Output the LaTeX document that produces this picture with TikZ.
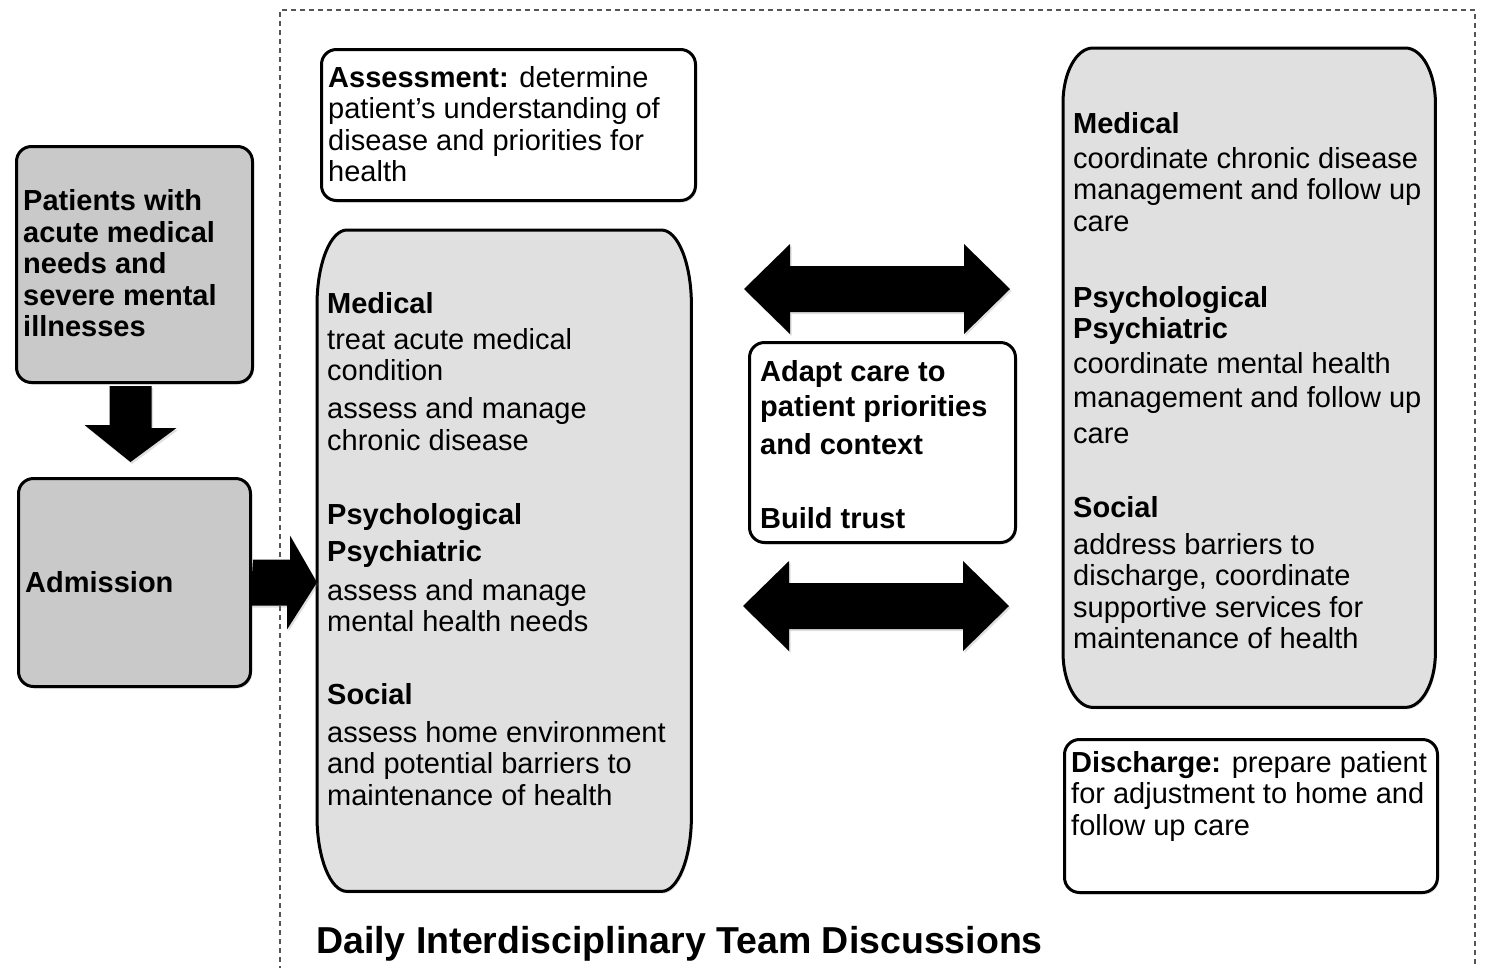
\documentclass[tikz,border=0pt]{standalone}
\usepackage{fontspec}
\setmainfont{Liberation Sans}
\usetikzlibrary{calc,shadows}
\definecolor{darkbox}{HTML}{C9C9C9}
\definecolor{lightbox}{HTML}{E0E0E0}
\definecolor{framegray}{HTML}{555555}
\tikzset{
  txt/.style={anchor=base west, inner sep=0pt, font=\fontsize{29}{31}\selectfont},
  softshadow/.style={drop shadow={opacity=0.25, shadow xshift=1.5pt, shadow yshift=-2pt}},
  boxline/.style={line width=3pt, draw=black},
  boxat/.style 2 args={minimum width=#1, minimum height=#2, anchor=north west, inner sep=0pt},
  smallbox/.style={boxline, rounded corners=15pt, softshadow},
  ghost/.style={draw=none, fill=none},
  blockarrow/.style={fill=black, softshadow},
  teamframe/.style={draw=framegray, line width=1.3pt, dash pattern=on 5pt off 4pt}
}
\newcommand{\bigshape}[3]{%
  \draw[boxline, fill=lightbox, softshadow]
    ($(#1.north west)+(0,#3)$) .. controls ($(#1.north west)+(0,0.4477*#3)$) and ($(#1.north west)+(0.4477*#2,0)$) .. ($(#1.north west)+(#2,0)$)
    -- ($(#1.north east)+(-#2,0)$) .. controls ($(#1.north east)+(-0.4477*#2,0)$) and ($(#1.north east)+(0,0.4477*#3)$) .. ($(#1.north east)+(0,#3)$)
    -- ($(#1.south east)+(0,-#3)$) .. controls ($(#1.south east)+(0,-0.4477*#3)$) and ($(#1.south east)+(-0.4477*#2,0)$) .. ($(#1.south east)+(-#2,0)$)
    -- ($(#1.south west)+(#2,0)$) .. controls ($(#1.south west)+(0.4477*#2,0)$) and ($(#1.south west)+(0,-0.4477*#3)$) .. ($(#1.south west)+(0,-#3)$)
    -- cycle;}
\newcommand{\dblarrow}[2]{%
  \fill[blockarrow] (#1) -- ++(46,-45) -- ++(0,22) -- ($(#2)+(-46,-23)$) -- ++(0,-22) -- (#2)
    -- ++(-46,45) -- ++(0,-22) -- ($(#1)+(46,23)$) -- ++(0,22) -- cycle;}
\begin{document}
\begin{tikzpicture}[x=1pt,y=-1pt]
\useasboundingbox[fill=white] (0,0) rectangle (1489,967);
% dashed team frame
\draw[teamframe] (280,980) -- (280,10) -- (1475,10) -- (1475,980);

% left column
\node[boxat={236pt}{236pt}, smallbox, fill=darkbox] (pat) at (15,145) {};
\node[boxat={232pt}{208pt}, smallbox, fill=darkbox] (adm) at (17,477) {};
\foreach \yy/\lbl [count=\i] in {210/Patients with, 242/acute medical, 273/needs and, 305/severe mental, 336/illnesses}
  \node[txt, font=\fontsize{29}{31}\selectfont\bfseries] (pt\i) at (23,\yy) {\lbl};
\node[txt, font=\fontsize{29}{31}\selectfont\bfseries] (admtxt) at (25,592) {Admission};

% boxes of the team area
\node[boxat={374pt}{151pt}, smallbox, fill=white] (ass) at (320,48) {};
\node[boxat={374pt}{661pt}, ghost] (lbox) at (317,230) {};
\bigshape{lbox}{30}{75}
\node[boxat={266pt}{200pt}, smallbox, fill=white] (mid) at (748,341) {};
\node[boxat={372pt}{659pt}, ghost] (rbox) at (1063,48) {};
\bigshape{rbox}{30}{55}
\node[boxat={373pt}{153pt}, smallbox, fill=white] (dis) at (1063,738) {};

% arrows
\fill[blockarrow] ($(pat.south)+(-25,2)$) -- ++(42,0) -- ++(0,42) -- ++(25,0)
  -- ($(adm.north)+(-4,-15)$) -- ++(-46,-37) -- ++(25,0) -- cycle;
\coordinate (tipR) at (lbox.west |- adm.east);
\fill[blockarrow] ($(adm.east)+(1,-23)$) -- ++(37,0) -- ++(0,-24) -- (tipR)
  -- ++(-30,47) -- ++(0,-24) -- ++(-37,0) -- cycle;
\coordinate (ua1) at ($(mid.north west)+(-4,-52)$);
\coordinate (ua2) at ($(mid.north east)+(-7,-52)$);
\coordinate (la1) at ($(mid.south west)+(-5,62)$);
\coordinate (la2) at ($(mid.south east)+(-8,62)$);
\dblarrow{ua1}{ua2}
\dblarrow{la1}{la2}

% texts
\foreach \yy/\lbl [count=\i] in {87/{\textbf{Assessment:} determine}, 118/patient’s understanding of, 150/disease and priorities for, 181/health}
  \node[txt] (as\i) at (328,\yy) {\lbl};
\foreach \yy/\lbl [count=\i] in {313/\textbf{Medical}, 349/treat acute medical, 380/condition, 418/assess and manage, 450/chronic disease,
  524/\textbf{Psychological}, 561/\textbf{Psychiatric}, 600/assess and manage, 631/mental health needs,
  704/\textbf{Social}, 742/assess home environment, 773/and potential barriers to, 805/maintenance of health}
  \node[txt] (lt\i) at (327,\yy) {\lbl};
\foreach \yy/\lbl [count=\i] in {381/Adapt care to, 416/patient priorities, 454/and context, 528/Build trust}
  \node[txt, font=\fontsize{29}{31}\selectfont\bfseries] (mt\i) at (760,\yy) {\lbl};
\foreach \yy/\lbl [count=\i] in {133/\textbf{Medical}, 168/coordinate chronic disease, 199/management and follow up, 231/care,
  307/\textbf{Psychological}, 338/\textbf{Psychiatric}, 373/coordinate mental health, 407/management and follow up, 443/care,
  517/\textbf{Social}, 554/address barriers to, 585/{discharge, coordinate}, 617/supportive services for, 648/maintenance of health}
  \node[txt] (rt\i) at (1073,\yy) {\lbl};
\foreach \yy/\lbl [count=\i] in {772/{\textbf{Discharge:} prepare patient}, 803/for adjustment to home and, 835/follow up care}
  \node[txt] (dt\i) at (1071,\yy) {\lbl};
\node[txt, font=\fontsize{37.5}{40}\selectfont\bfseries] (title) at (316,953) {Daily Interdisciplinary Team Discussions};
\end{tikzpicture}
\end{document}
